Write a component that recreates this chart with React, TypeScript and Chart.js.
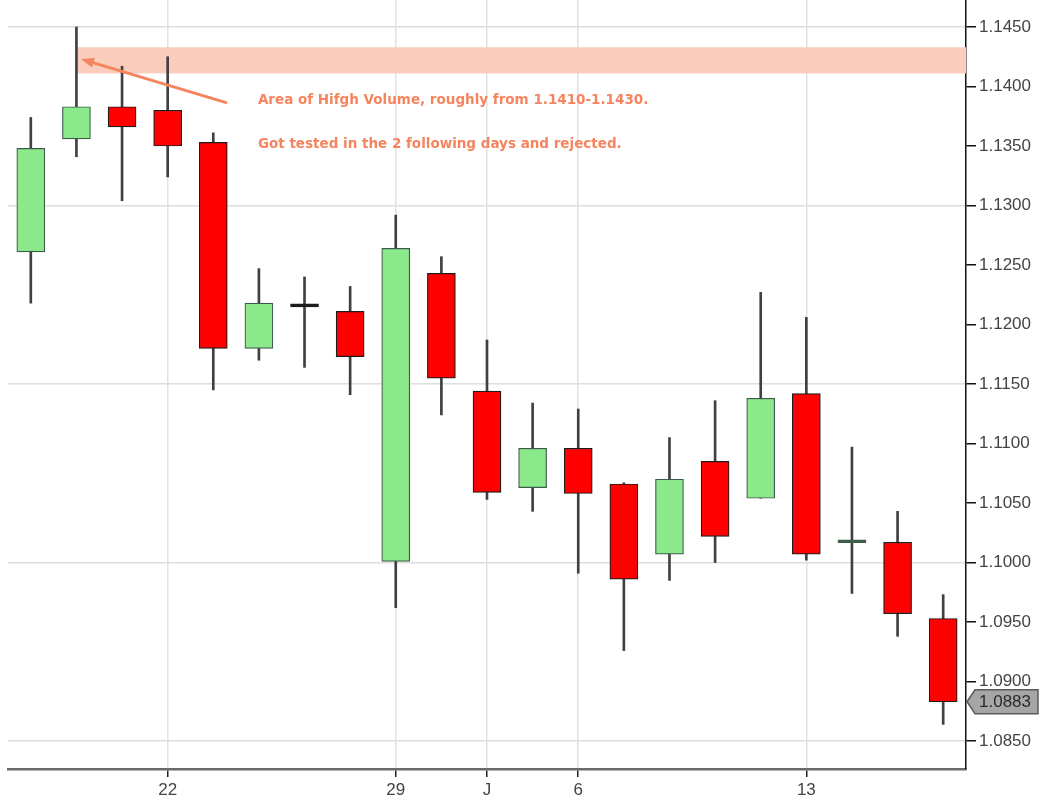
import { useEffect, useRef } from "react";
import { Chart, ChartConfiguration, Plugin, registerables } from "chart.js";

Chart.register(...registerables);

// daily candles, only some days carry a label on the axis
const dayLabels = ["", "", "", "22", "", "", "", "", "29", "", "J", "", "6", "", "", "", "", "13", "", "", ""];
const opens = [1.1261, 1.1356, 1.1383, 1.1380, 1.1353, 1.1180, 1.12150, 1.1211, 1.1001, 1.1243, 1.1144, 1.1063, 1.1096, 1.1066, 1.1007, 1.1085, 1.1054, 1.1142, 1.10166, 1.1017, 1.0953];
const highs = [1.1374, 1.1450, 1.1417, 1.1425, 1.1361, 1.1247, 1.1240, 1.1232, 1.1292, 1.1257, 1.1187, 1.1134, 1.1129, 1.1067, 1.1105, 1.1136, 1.1227, 1.1206, 1.1097, 1.1043, 1.0973];
const lows = [1.1218, 1.1341, 1.1304, 1.1324, 1.1145, 1.1170, 1.1164, 1.1141, 1.0962, 1.1124, 1.1053, 1.1043, 1.0991, 1.0926, 1.0985, 1.1000, 1.1054, 1.1002, 1.0974, 1.0938, 1.0864];
const closes = [1.1348, 1.1383, 1.1366, 1.1350, 1.1180, 1.1218, 1.12148, 1.1173, 1.1264, 1.1155, 1.1059, 1.1096, 1.1058, 1.0986, 1.1070, 1.1022, 1.1138, 1.1007, 1.10168, 1.0957, 1.0883];

// high volume zone + notes
const bandHigh = 1.1433;
const bandLow = 1.1411;
const bandStartIndex = 1;
const noteLines = [
  "Area of Hifgh Volume, roughly from 1.1410-1.1430.",
  "Got tested in the 2 following days and rejected.",
];
const noteValues = [1.13853, 1.13484];
const noteIndex = 5;
const arrowFrom = { index: 4.3, value: 1.13862 };
const arrowTo = { index: 1.1, value: 1.14231 };

const yMin = 1.08265;
const yMax = 1.14727;

const GREEN = "#8be88b";
const GREEN_EDGE = "#3d5c48";
const RED = "#ff0000";
const RED_EDGE = "#1c1c1c";
const NOTE = "#f5845f";

const isUp = (i: number) => closes[i] >= opens[i];
const isDoji = (i: number) => Math.abs(closes[i] - opens[i]) < 0.0001;

const notesPlugin: Plugin<"bar"> = {
  id: "notes",
  beforeDatasetsDraw(chart) {
    const { ctx, chartArea } = chart;
    const x = chart.scales.x;
    const y = chart.scales.y;
    const top = y.getPixelForValue(bandHigh);
    const bottom = y.getPixelForValue(bandLow);
    const left = x.getPixelForValue(bandStartIndex);
    ctx.save();
    ctx.fillStyle = "#fbcdbd";
    ctx.fillRect(left, top, chartArea.right - left, bottom - top);
    ctx.restore();
  },
  afterDatasetsDraw(chart) {
    const { ctx } = chart;
    const x = chart.scales.x;
    const y = chart.scales.y;
    const x0 = x.getPixelForValue(arrowFrom.index);
    const y0 = y.getPixelForValue(arrowFrom.value);
    const x1 = x.getPixelForValue(arrowTo.index);
    const y1 = y.getPixelForValue(arrowTo.value);
    const ang = Math.atan2(y1 - y0, x1 - x0);
    ctx.save();
    ctx.strokeStyle = NOTE;
    ctx.fillStyle = NOTE;
    ctx.lineWidth = 3;
    ctx.beginPath();
    ctx.moveTo(x0, y0);
    ctx.lineTo(x1 - Math.cos(ang) * 8, y1 - Math.sin(ang) * 8);
    ctx.stroke();
    ctx.beginPath();
    ctx.moveTo(x1, y1);
    ctx.lineTo(x1 - Math.cos(ang) * 13 - Math.sin(ang) * 5, y1 - Math.sin(ang) * 13 + Math.cos(ang) * 5);
    ctx.lineTo(x1 - Math.cos(ang) * 13 + Math.sin(ang) * 5, y1 - Math.sin(ang) * 13 - Math.cos(ang) * 5);
    ctx.closePath();
    ctx.fill();

    ctx.font = "bold 13.5px 'DejaVu Sans'";
    ctx.textBaseline = "alphabetic";
    ctx.textAlign = "left";
    const tx = x.getPixelForValue(noteIndex) - 1;
    noteLines.forEach((line, i) => {
      ctx.fillText(line, tx, y.getPixelForValue(noteValues[i]));
    });
    ctx.restore();
  },
  afterDraw(chart) {
    const { ctx, chartArea } = chart;
    const y = chart.scales.y;
    const last = closes[closes.length - 1];
    const yc = y.getPixelForValue(last);
    const x0 = chartArea.right + 1;
    ctx.save();
    ctx.beginPath();
    ctx.moveTo(x0, yc);
    ctx.lineTo(x0 + 8, yc - 12);
    ctx.lineTo(x0 + 71, yc - 12);
    ctx.lineTo(x0 + 71, yc + 12);
    ctx.lineTo(x0 + 8, yc + 12);
    ctx.closePath();
    ctx.fillStyle = "#a6a6a6";
    ctx.fill();
    ctx.strokeStyle = "#5a5a5a";
    ctx.lineWidth = 1.5;
    ctx.stroke();
    ctx.fillStyle = "#2a2a2a";
    ctx.font = "17px 'Liberation Sans'";
    ctx.textBaseline = "middle";
    ctx.fillText(last.toFixed(4), x0 + 12, yc + 1);
    ctx.restore();
  },
};

export default function App() {
  const canvasRef = useRef<HTMLCanvasElement>(null);
  const chartRef = useRef<Chart | null>(null);

  useEffect(() => {
    document.body.style.margin = "0";
    if (!canvasRef.current) return;
    if (chartRef.current) chartRef.current.destroy();

    const ctx = canvasRef.current.getContext("2d");
    if (!ctx) return;

    const bodies = opens.map((o, i) => [o, closes[i]]);
    const wicks = lows.map((l, i) => [l, highs[i]]);

    const config: ChartConfiguration<"bar"> = {
      type: "bar",
      data: {
        labels: dayLabels,
        datasets: [
          {
            label: "body",
            data: bodies as any,
            grouped: false,
            barThickness: 28,
            minBarLength: 3,
            borderWidth: 1.2,
            borderSkipped: false,
            backgroundColor: dayLabels.map((_, i) =>
              isDoji(i) ? (isUp(i) ? GREEN_EDGE : RED_EDGE) : isUp(i) ? GREEN : RED
            ),
            borderColor: dayLabels.map((_, i) => (isUp(i) ? GREEN_EDGE : RED_EDGE)),
          },
          {
            label: "wick",
            data: wicks as any,
            grouped: false,
            barThickness: 2,
            borderWidth: 0,
            backgroundColor: "#404040",
          },
        ],
      },
      options: {
        responsive: false,
        animation: false,
        layout: { padding: { left: 8, top: 0, right: 0, bottom: 0 } },
        plugins: {
          legend: { display: false },
          tooltip: { enabled: false },
        },
        scales: {
          x: {
            offset: true,
            afterFit: (scale: any) => {
              scale.height = 40;
              scale.paddingLeft = 0;
              scale.paddingRight = 0;
            },
            grid: {
              offset: false,
              lineWidth: 1.5,
              tickLength: 8,
              color: (c) => (dayLabels[c.index] ? "#e2e2e2" : "rgba(0,0,0,0)"),
              tickColor: (c) => (dayLabels[c.index] ? "#222" : "rgba(0,0,0,0)"),
            },
            border: { color: "#6a6a6a", width: 2.5 },
            ticks: {
              autoSkip: false,
              maxRotation: 0,
              padding: 3,
              color: "#444",
              font: { family: "'Liberation Sans'", size: 17 },
            },
          },
          y: {
            position: "right",
            min: yMin,
            max: yMax,
            afterFit: (scale: any) => {
              scale.width = 78;
              scale.paddingTop = 0;
              scale.paddingBottom = 0;
            },
            grid: {
              lineWidth: 1.5,
              tickLength: 10,
              tickColor: "#111",
              color: (c) => {
                const v = c.tick ? c.tick.value : NaN;
                const k = Math.round((v - 1.085) / 0.005);
                return k % 3 === 0 ? "#dedede" : "rgba(0,0,0,0)";
              },
            },
            border: { color: "#111", width: 1.5 },
            ticks: {
              stepSize: 0.005,
              includeBounds: false,
              padding: 3,
              color: "#444",
              font: { family: "'Liberation Sans'", size: 17 },
              callback: (v) => Number(v).toFixed(4),
            },
          },
        },
      },
      plugins: [notesPlugin],
    };

    chartRef.current = new Chart(ctx, config);

    return () => {
      chartRef.current?.destroy();
    };
  }, []);

  return (
    <div style={{ width: 1044, height: 809, background: "#fff" }}>
      <canvas ref={canvasRef} width={1044} height={809} style={{ display: "block" }} />
    </div>
  );
}
